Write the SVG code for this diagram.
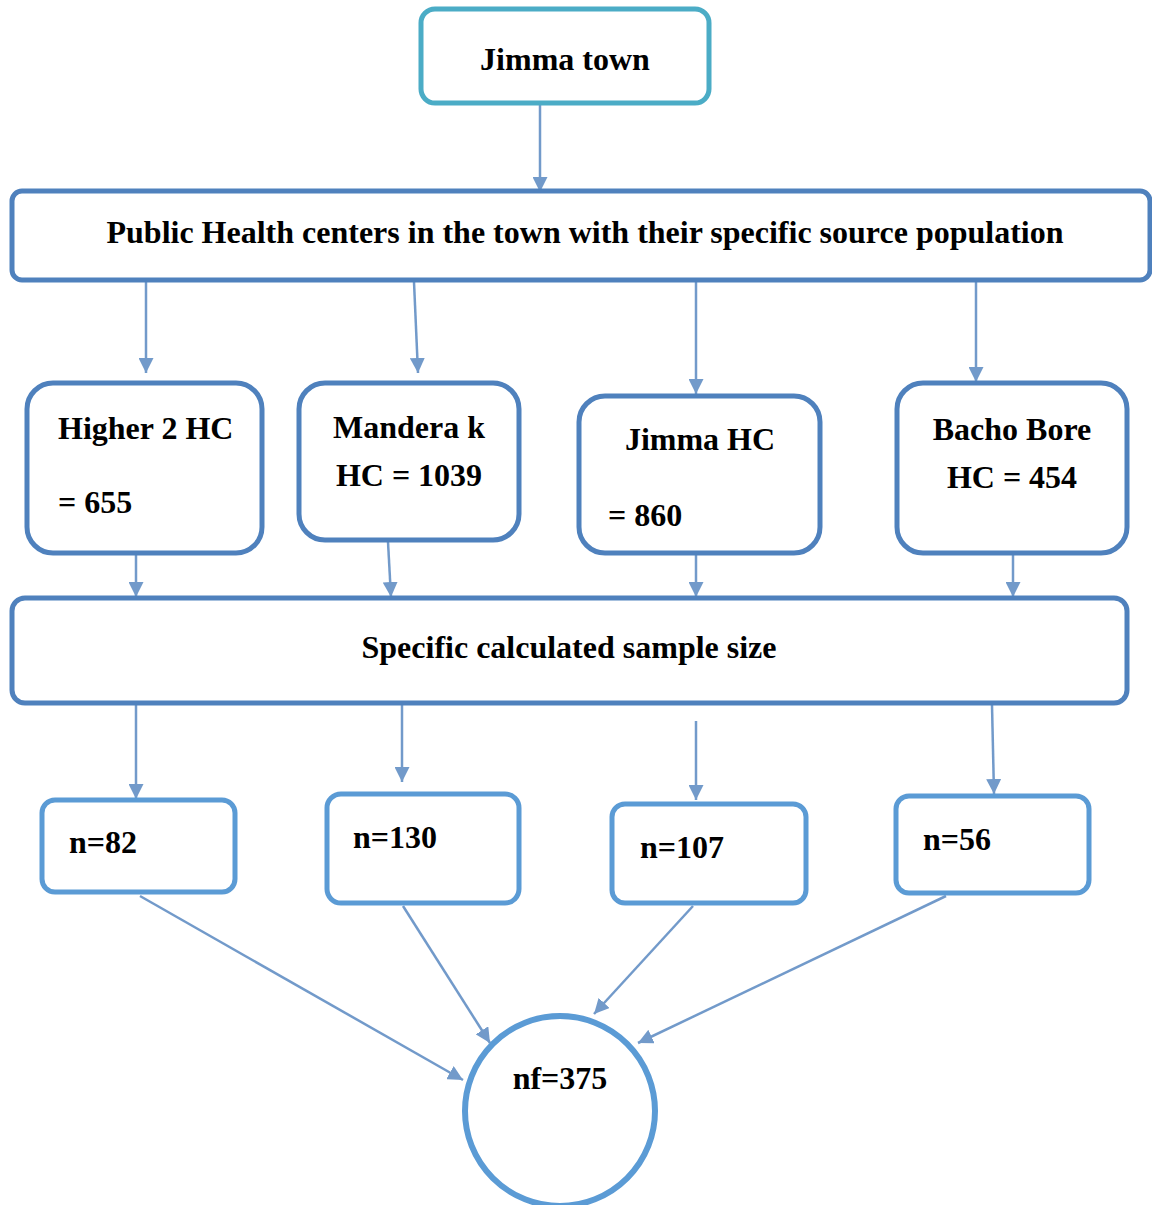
<svg xmlns="http://www.w3.org/2000/svg" width="1152" height="1205" viewBox="0 0 1152 1205">
<defs>
<style>
text{font-family:"Liberation Serif","Times New Roman",serif;font-weight:bold;fill:#000;font-size:32px}
.c{text-anchor:middle}
.top{fill:#fff;stroke:#4BACC6;stroke-width:5}
.mid{fill:#fff;stroke:#4F81BD;stroke-width:5}
.low{fill:#fff;stroke:#5B9BD5;stroke-width:5}
.con line{stroke:#729ACA;stroke-width:2.5;fill:none;marker-end:url(#ah)}
</style>
<marker id="ah" viewBox="0 0 10 10" refX="10" refY="5" markerWidth="6" markerHeight="6" markerUnits="strokeWidth" orient="auto">
<path d="M0,0 L10,5 L0,10 Z" fill="#729ACA"/>
</marker>
</defs>
<rect width="1152" height="1205" fill="#fff"/>
<g class="con">
<line x1="540" y1="105" x2="540" y2="192"/>
<line x1="146" y1="282" x2="146" y2="373"/>
<line x1="414" y1="282" x2="418" y2="373"/>
<line x1="696" y1="282" x2="696" y2="394"/>
<line x1="976" y1="282" x2="976" y2="382"/>
<line x1="136" y1="555" x2="136" y2="597"/>
<line x1="388" y1="542" x2="391" y2="597"/>
<line x1="696" y1="555" x2="696" y2="597"/>
<line x1="1013" y1="555" x2="1013" y2="597"/>
<line x1="136" y1="705" x2="136" y2="799"/>
<line x1="402" y1="705" x2="402" y2="782"/>
<line x1="696" y1="721" x2="696" y2="800"/>
<line x1="992" y1="705" x2="994" y2="794"/>
<line x1="140" y1="896" x2="463" y2="1080"/>
<line x1="403" y1="906" x2="490" y2="1043"/>
<line x1="693" y1="906" x2="594" y2="1014"/>
<line x1="946" y1="896" x2="638" y2="1043"/>
</g>
<g id="jimma-town">
<rect class="top" x="421" y="9" width="288" height="94" rx="14"/>
<text class="c" x="565" y="70">Jimma town</text>
</g>
<g id="public-hc">
<rect class="mid" x="12" y="191" width="1138" height="89" rx="10"/>
<text class="c" x="585" y="243" font-size="30">Public Health centers in the town with their specific source population</text>
</g>
<g id="higher2">
<rect class="mid" x="27" y="383" width="235" height="170" rx="26"/>
<text x="58" y="439">Higher 2 HC</text>
<text x="58" y="513">= 655</text>
</g>
<g id="mandera">
<rect class="mid" x="299" y="383" width="220" height="157" rx="26"/>
<text class="c" x="409" y="438">Mandera k</text>
<text class="c" x="409" y="486">HC = 1039</text>
</g>
<g id="jimma-hc">
<rect class="mid" x="579" y="396" width="241" height="157" rx="26"/>
<text class="c" x="700" y="450">Jimma HC</text>
<text x="608" y="526">= 860</text>
</g>
<g id="bacho">
<rect class="mid" x="897" y="383" width="230" height="170" rx="26"/>
<text class="c" x="1012" y="440">Bacho Bore</text>
<text class="c" x="1012" y="488">HC = 454</text>
</g>
<g id="specific">
<rect class="mid" x="12" y="598" width="1115" height="105" rx="13"/>
<text class="c" x="569" y="658" font-size="30">Specific calculated sample size</text>
</g>
<g id="n82">
<rect class="low" x="42" y="800" width="193" height="92" rx="13"/>
<text x="69" y="853">n=82</text>
</g>
<g id="n130">
<rect class="low" x="327" y="794" width="192" height="109" rx="14"/>
<text x="353" y="848">n=130</text>
</g>
<g id="n107">
<rect class="low" x="612" y="804" width="194" height="99" rx="13"/>
<text x="640" y="858">n=107</text>
</g>
<g id="n56">
<rect class="low" x="896" y="796" width="193" height="97" rx="13"/>
<text x="923" y="850">n=56</text>
</g>
<g id="nf">
<circle cx="560" cy="1111" r="95" fill="#fff" stroke="#5B9BD5" stroke-width="6"/>
<text class="c" x="560" y="1089">nf=375</text>
</g>
</svg>
